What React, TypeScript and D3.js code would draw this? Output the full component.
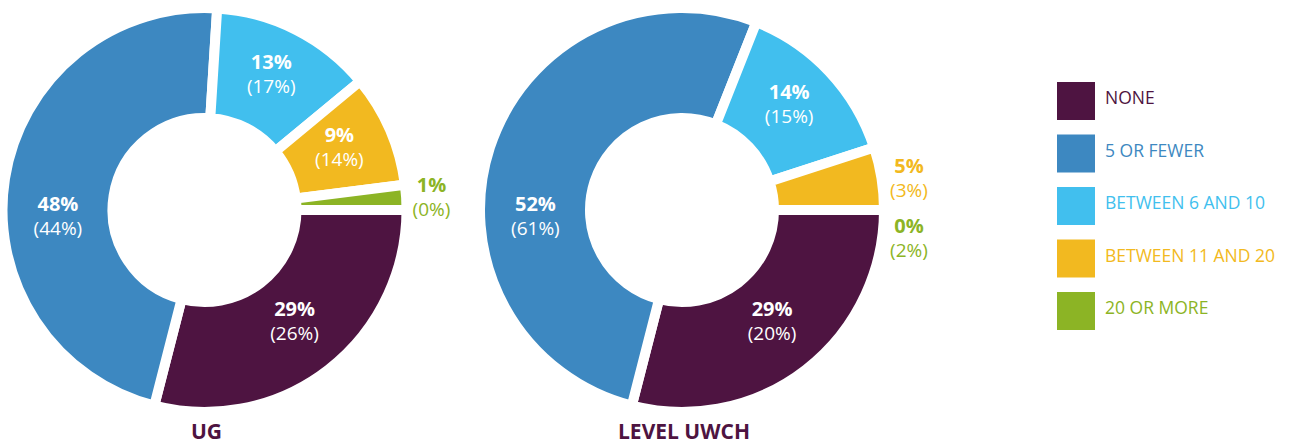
import React from "react";
import * as d3 from "d3";

const categories = ["NONE", "5 OR FEWER", "BETWEEN 6 AND 10", "BETWEEN 11 AND 20", "20 OR MORE"];
const colors = ["#4e1441", "#3d88c1", "#41bfee", "#f2b920", "#8cb425"];

const ugTitle = "UG";
const ugShares = [29, 47, 13, 9, 2];
const ugLabels = ["29%", "48%", "13%", "9%", "1%"];
const ugSecondary = ["(26%)", "(44%)", "(17%)", "(14%)", "(0%)"];

const uwchTitle = "LEVEL UWCH";
const uwchShares = [29, 52, 14, 5, 0];
const uwchLabels = ["29%", "52%", "14%", "5%", "0%"];
const uwchSecondary = ["(20%)", "(61%)", "(15%)", "(3%)", "(2%)"];

const FONT = "'Open Sans', 'DejaVu Sans', sans-serif";
const W = 1291;
const H = 445;
const R_OUT = 197;
const R_IN = 97;
const GAP = 10;
const TITLE_COLOR = "#4e1441";

type DonutProps = {
  cx: number;
  cy: number;
  shares: number[];
  labels: string[];
  secondary: string[];
  title: string;
};

function Donut({ cx, cy, shares, labels, secondary, title }: DonutProps) {
  const pie = d3
    .pie<number>()
    .sort(null)
    .value((d) => d)
    .startAngle(Math.PI / 2)
    .endAngle(Math.PI / 2 + 2 * Math.PI);
  const arcs = pie(shares);
  const arc = d3
    .arc<d3.PieArcDatum<number>>()
    .innerRadius(R_IN - GAP / 2)
    .outerRadius(R_OUT + GAP / 2);
  const labelArc = d3
    .arc<any>()
    .innerRadius((R_IN + R_OUT) / 2)
    .outerRadius((R_IN + R_OUT) / 2);
  const maxShare = d3.max(shares) as number;

  let prevOutside = -Infinity;
  const labelEls = arcs.map((a, i) => {
    const mid = (a.startAngle + a.endAngle) / 2;
    if (shares[i] < 6) {
      let base = cy - R_OUT * Math.cos(mid) - 6;
      if (base < prevOutside + 60) base = prevOutside + 60;
      prevOutside = base;
      const x = cx + R_OUT + 30;
      return (
        <g key={"l" + i} fill={colors[i]} textAnchor="middle" fontFamily={FONT}>
          <text x={x} y={base} fontSize={20} fontWeight={700}>{labels[i]}</text>
          <text x={x} y={base + 24} fontSize={19}>{secondary[i]}</text>
        </g>
      );
    }
    let ang = mid;
    if (shares[i] === maxShare) ang = 1.5 * Math.PI - 0.075;
    const [lx, ly] = labelArc.centroid({ startAngle: ang, endAngle: ang } as any);
    const x = cx + lx;
    const base = cy + ly - 10;
    return (
      <g key={"l" + i} fill="#ffffff" textAnchor="middle" fontFamily={FONT}>
        <text x={x} y={base} fontSize={20} fontWeight={700}>{labels[i]}</text>
        <text x={x} y={base + 24} fontSize={19}>{secondary[i]}</text>
      </g>
    );
  });

  return (
    <g>
      <g transform={`translate(${cx},${cy})`}>
        {arcs.map((a, i) => (
          <path
            key={i}
            d={arc(a) as string}
            fill={colors[i]}
            stroke="#ffffff"
            strokeWidth={GAP}
            strokeLinejoin="miter"
          />
        ))}
      </g>
      {labelEls}
      <text
        x={cx + 2}
        y={439}
        textAnchor="middle"
        fontFamily={FONT}
        fontSize={21}
        fontWeight={700}
        fill={TITLE_COLOR}
      >
        {title}
      </text>
    </g>
  );
}

function Legend() {
  const y = d3.scaleBand<number>().domain(d3.range(categories.length)).range([82, 82 + 52.5 * 5]);
  return (
    <g>
      {categories.map((c, i) => (
        <g key={c}>
          <rect x={1057} y={y(i)} width={38} height={38} fill={colors[i]} />
          <text
            x={1105}
            y={(y(i) as number) + 22}
            fontFamily={FONT}
            fontSize={17.5}
            fill={colors[i]}
          >
            {c}
          </text>
        </g>
      ))}
    </g>
  );
}

export default function App() {
  return (
    <svg
      width={W}
      height={H}
      style={{ position: "absolute", left: 0, top: 0, background: "#ffffff" }}
    >
      <Donut cx={204.5} cy={210} shares={ugShares} labels={ugLabels} secondary={ugSecondary} title={ugTitle} />
      <Donut cx={682} cy={210} shares={uwchShares} labels={uwchLabels} secondary={uwchSecondary} title={uwchTitle} />
      <Legend />
    </svg>
  );
}
